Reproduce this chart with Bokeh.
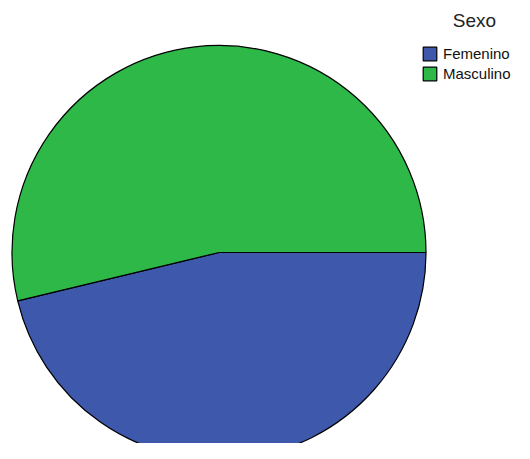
import numpy as np
from bokeh.plotting import figure
from bokeh.models import Range1d, Legend, LegendItem, Label
from bokeh.embed import file_html
from bokeh.resources import INLINE

categories = ["Femenino", "Masculino"]
counts = [37, 43]
colors = ["#3E58AC", "#2EB848"]
legend_title = "Sexo"

W, H = 514, 443
p = figure(width=W, height=H, output_backend="svg", toolbar_location=None,
           x_range=Range1d(0, W), y_range=Range1d(0, H), min_border=0)
p.axis.visible = False
p.grid.visible = False
p.outline_line_color = None
p.background_fill_color = "white"
p.border_fill_color = "white"

vals = np.array(counts, dtype=float)
cum = np.cumsum(vals) / vals.sum()
prev = np.concatenate([[0.0], cum[:-1]])
starts = -cum * 2 * np.pi
ends = -prev * 2 * np.pi

cx, cy, r = 218.5, 191, 207
renderers = []
for i, c in enumerate(categories):
    rr = p.wedge(x=cx, y=cy, radius=r, start_angle=starts[i], end_angle=ends[i],
                 fill_color=colors[i], line_color="black", line_width=1.2)
    renderers.append(rr)

items = [LegendItem(label=c, renderers=[renderers[i]]) for i, c in enumerate(categories)]
legend = Legend(items=items, location=(421, 361), orientation="vertical",
                glyph_width=17, glyph_height=17, label_height=16, spacing=3,
                label_standoff=5, padding=0, margin=0,
                border_line_color=None, background_fill_alpha=0,
                label_text_font="Liberation Sans", label_text_font_size="15px",
                label_text_color="#111111")
p.add_layout(legend)

title = Label(x=474, y=423, x_units="screen", y_units="screen", text=legend_title,
              text_align="center", text_baseline="alphabetic",
              text_font="Liberation Sans", text_font_size="19px", text_color="#222222")
p.add_layout(title)

open("out.html", "w").write(file_html(p, INLINE))
